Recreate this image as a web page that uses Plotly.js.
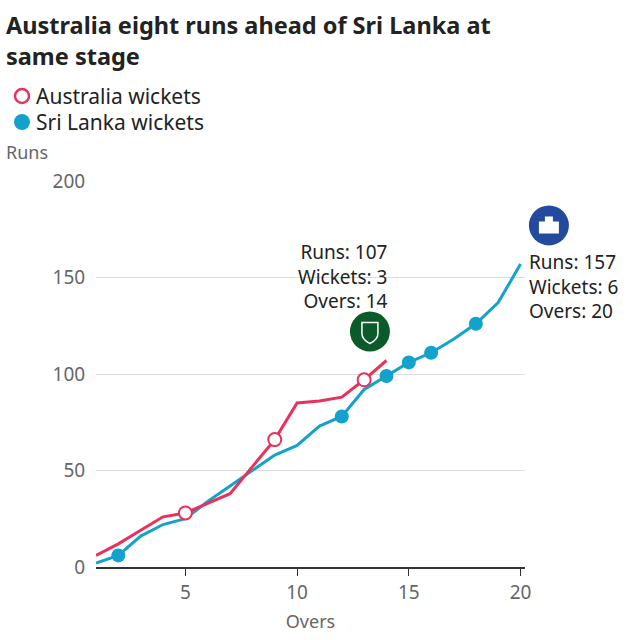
<!DOCTYPE html>
<html><head><meta charset="utf-8">
<script src="https://cdn.plot.ly/plotly-3.0.1.min.js"></script>
<style>body{margin:0;padding:0;background:#fff}#chart{width:640px;height:640px}</style>
</head><body><div id="chart"></div>
<script>
const overs = [1,2,3,4,5,6,7,8,9,10,11,12,13,14,15,16,17,18,19,20];
const ausRuns = [6,12,19,26,28,33,38,52,66,85,86,88,97,107];
const slRuns = [2,6,16,22,25,34,42,50,58,63,73,78,92,99,106,111,118,126,137,157];
const ausWktOvers = [5,9,13];
const slWktOvers = [2,12,14,15,16,18];
const yTicks = [0,50,100,150,200];
const xTicks = [5,10,15,20];
const titleText = 'Australia eight runs ahead of Sri Lanka at<br>same stage';
const legendNames = ['Australia wickets', 'Sri Lanka wickets'];
const red = '#e8315b', blue = '#13a2cc';
const font = 'Noto Sans, Open Sans, sans-serif';
const W = 640, H = 640;
const M = {l:96, r:115, t:181, b:73};
const PW = W - M.l - M.r, PH = H - M.t - M.b;

const ausOvers = overs.slice(0, ausRuns.length);
const ausWktRuns = ausWktOvers.map(o => ausRuns[o-1]);
const slWktRuns = slWktOvers.map(o => slRuns[o-1]);

const xRange = [1, 20.2], yRange = [0, 200];
const px = v => (v - xRange[0]) / (xRange[1] - xRange[0]);
const py = v => (v - yRange[0]) / (yRange[1] - yRange[0]);
// pixel (from top-left of page) -> paper coords
const qx = p => (p - M.l) / PW, qy = p => (H - M.b - p) / PH;

const traces = [
  {x: overs, y: slRuns, mode:'lines', line:{color:blue, width:3}, showlegend:false, hoverinfo:'skip'},
  {x: ausOvers, y: ausRuns, mode:'lines', line:{color:red, width:3}, showlegend:false, hoverinfo:'skip'},
  {x: ausWktOvers, y: ausWktRuns, mode:'markers', name:legendNames[0], showlegend:false,
   marker:{symbol:'circle', size:13, color:'#fff', line:{color:red, width:2}}},
  {x: slWktOvers, y: slWktRuns, mode:'markers', name:legendNames[1], showlegend:false,
   marker:{symbol:'circle', size:14, color:blue, line:{color:blue, width:0}}}
];

const lastAus = ausRuns.length - 1, lastSl = slRuns.length - 1;
const paperText = (x, y, text, size, color) => ({xref:'paper', yref:'paper', x:qx(x), y:qy(y), text,
  showarrow:false, xanchor:'left', yanchor:'middle', align:'left', font:{size, color}});
const layout = {
  width:W, height:H,
  margin:Object.assign({autoexpand:false}, M),
  paper_bgcolor:'#fff', plot_bgcolor:'#fff',
  font:{family:font, color:'#222'},
  showlegend:false,
  xaxis:{range:xRange, tickvals:xTicks, ticks:'outside', ticklen:7, tickcolor:'#333', tickwidth:1,
         showgrid:false, showline:true, linecolor:'#333', linewidth:2, zeroline:false,
         tickfont:{size:19, color:'#666'},
         title:{text:'Overs', font:{size:18, color:'#666'}, standoff:12}},
  yaxis:{range:yRange, tickvals:yTicks, showgrid:true, gridcolor:'#dcdcdc', gridwidth:1, zeroline:false,
         ticks:'outside', ticklen:6, tickcolor:'rgba(0,0,0,0)', tickfont:{size:19, color:'#666'}, showline:false},
  annotations:[
    paperText(4, 40, '<b>'+titleText+'</b>', 23.5, '#222'),
    paperText(34, 96, legendNames[0], 21, '#222'),
    paperText(34, 122, legendNames[1], 21, '#222'),
    paperText(4, 152, 'Runs', 18, '#666'),
    {x:ausOvers[lastAus], y:ausRuns[lastAus], xref:'x', yref:'y', showarrow:false, xanchor:'right', yanchor:'middle',
     xshift:4, yshift:84, align:'right',
     text:'Runs: '+ausRuns[lastAus]+'<br>Wickets: '+ausWktOvers.length+'<br>Overs: '+ausOvers[lastAus], font:{size:19, color:'#222'}},
    {x:overs[lastSl], y:slRuns[lastSl], xref:'x', yref:'y', showarrow:false, xanchor:'left', yanchor:'middle',
     xshift:6, yshift:-23, align:'left',
     text:'Runs: '+slRuns[lastSl]+'<br>Wickets: '+slWktOvers.length+'<br>Overs: '+overs[lastSl], font:{size:19, color:'#222'}}
  ],
  shapes:[
    {type:'circle', xref:'paper', yref:'paper', xsizemode:'pixel', ysizemode:'pixel',
     xanchor:qx(22), yanchor:qy(96), x0:-7, x1:7, y0:-7, y1:7, fillcolor:'#fff', line:{color:red, width:2.5}},
    {type:'circle', xref:'paper', yref:'paper', xsizemode:'pixel', ysizemode:'pixel',
     xanchor:qx(22), yanchor:qy(122), x0:-8, x1:8, y0:-8, y1:8, fillcolor:blue, line:{width:0}},
    {type:'circle', xref:'paper', yref:'paper', xsizemode:'pixel', ysizemode:'pixel',
     xanchor:px(13.26), yanchor:py(122), x0:-20, x1:20, y0:-20, y1:20, fillcolor:'#0b5a2a', line:{width:0}},
    {type:'path', xref:'paper', yref:'paper', xsizemode:'pixel', ysizemode:'pixel',
     xanchor:px(13.26), yanchor:py(122), path:'M -8 9 L 8 9 L 8 -2 Q 8 -8 0 -12 Q -8 -8 -8 -2 Z',
     fillcolor:'rgba(0,0,0,0)', line:{color:'#fff', width:1.5}},
    {type:'circle', xref:'paper', yref:'paper', xsizemode:'pixel', ysizemode:'pixel',
     xanchor:px(21.27), yanchor:py(177), x0:-20, x1:20, y0:-20, y1:20, fillcolor:'#234a9c', line:{width:0}},
    {type:'path', xref:'paper', yref:'paper', xsizemode:'pixel', ysizemode:'pixel',
     xanchor:px(21.27), yanchor:py(177), path:'M -10 -8 L 10 -8 L 10 4 L 4 4 L 4 9 L -4 9 L -4 4 L -10 4 Z',
     fillcolor:'#fff', line:{width:0}}
  ]
};

Plotly.newPlot('chart', traces, layout, {displayModeBar:false, staticPlot:true});
</script></body></html>
